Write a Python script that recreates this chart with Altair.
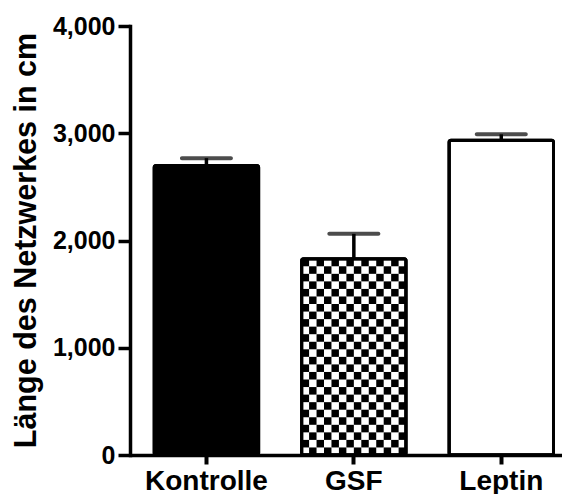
import altair as alt
import pandas as pd

# ---- data ----
categories = ["Kontrolle", "GSF", "Leptin"]
means = [2700, 1830, 2935]
sems = [68, 232, 55]
fills = ["#000000", "#ffffff", "#ffffff"]
y_ticks = [0, 1000, 2000, 3000, 4000]
y_title = "Länge des Netzwerkes in cm"

# checkerboard texture of the GSF bar (rows x columns of the grid)
checker_rows = 26
checker_cols = 14

df = pd.DataFrame({
    "cat": categories,
    "mean": means,
    "upper": [m + s for m, s in zip(means, sems)],
})

gsf_value = means[categories.index("GSF")]
cell = gsf_value / checker_rows
cells = pd.DataFrame([
    {"cat": "GSF", "col": c, "lo": r * cell, "hi": (r + 1) * cell}
    for r in range(checker_rows)
    for c in range(checker_cols)
    if (r + c) % 2 == 1
])

FONT = "Liberation Sans"

xscale = alt.Scale(domain=categories, paddingInner=0.2915, paddingOuter=0.1109, align=0.74)
yscale = alt.Scale(domain=[0, 4000], nice=False, zero=True)

xaxis = alt.Axis(
    labelAngle=0, labelFontSize=28, labelFontWeight="bold", labelFont=FONT,
    labelColor="#000", labelPadding=3, tickSize=9, tickWidth=4,
    tickColor="#000", domainColor="#000", domainWidth=3.5, title=None,
    grid=False,
)
yaxis = alt.Axis(
    values=y_ticks, format=",.0f", labelFontSize=25, labelFontWeight="bold",
    labelFont=FONT, labelColor="#000", labelPadding=3, tickSize=12,
    tickWidth=3.5, tickColor="#000", domainColor="#000", domainWidth=3.5,
    domainCap="square", grid=False,
    title=y_title, titleFont=FONT, titleFontSize=30.5, titleFontWeight="bold",
    titleColor="#000", titleX=-95, titleY=214, titleBaseline="alphabetic",
    titleAlign="center", titleAngle=270,
)

X = alt.X("cat:N", sort=categories, scale=xscale, axis=xaxis, title=None)

bars = alt.Chart(df).mark_bar(stroke="#000", strokeWidth=3, cornerRadius=2).encode(
    x=X,
    y=alt.Y("mean:Q", scale=yscale, axis=yaxis, title=y_title),
    color=alt.Color("cat:N", scale=alt.Scale(domain=categories, range=fills), legend=None),
)

squares = alt.Chart(cells).mark_bar(color="#000", cornerRadius=0).encode(
    x=X,
    xOffset=alt.XOffset("col:O", scale=alt.Scale(paddingInner=0, paddingOuter=0)),
    y=alt.Y("lo:Q", scale=yscale, axis=yaxis, title=y_title),
    y2="hi:Q",
)

outline = alt.Chart(df).mark_bar(
    fillOpacity=0, stroke="#000", strokeWidth=3, cornerRadius=2
).encode(
    x=X,
    y=alt.Y("mean:Q", scale=yscale, axis=yaxis, title=y_title),
)

stems = alt.Chart(df).mark_rule(color="#000", strokeWidth=3.5).encode(
    x=X,
    y=alt.Y("mean:Q", scale=yscale, axis=yaxis, title=y_title),
    y2="upper:Q",
)

caps = alt.Chart(df).mark_tick(color="#000", size=53, thickness=4, cornerRadius=2).encode(
    x=X,
    y=alt.Y("upper:Q", scale=yscale, axis=yaxis, title=y_title),
)

chart = alt.layer(bars, squares, outline, stems, caps).properties(
    width=432,
    height=429,
    autosize=alt.AutoSizeParams(type="none"),
    padding={"left": 122, "top": 18, "right": 0, "bottom": 39},
    background="#ffffff",
).configure_view(stroke=None)

chart.save("out.html", embed_options={"renderer": "svg", "actions": False})
